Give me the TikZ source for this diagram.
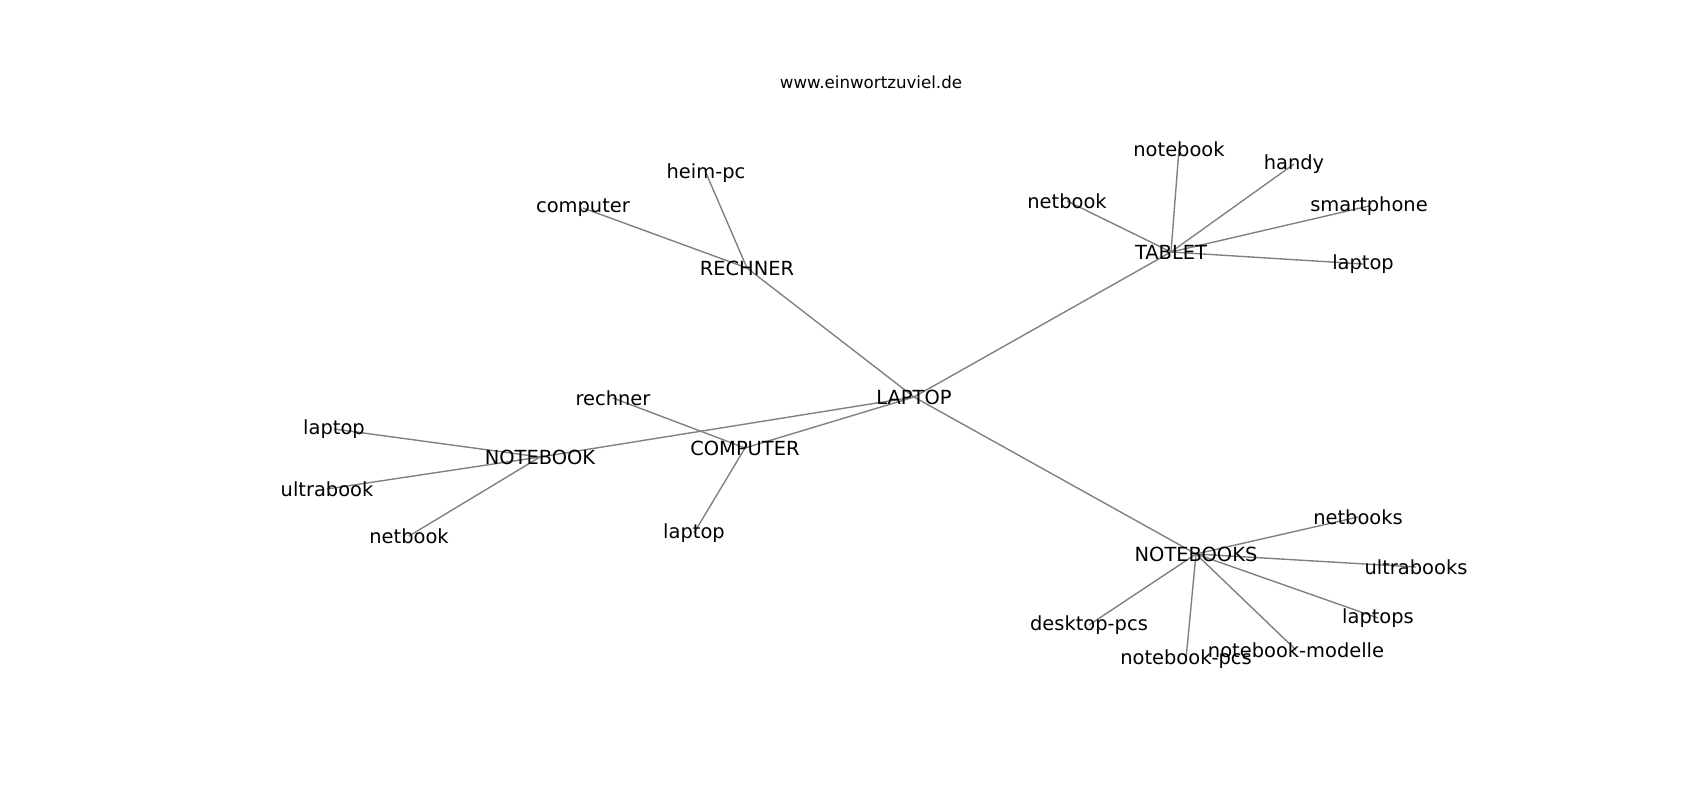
\documentclass[tikz,border=0pt]{standalone}
\usepackage{fontspec}
\setmainfont{DejaVu Sans}
\usetikzlibrary{backgrounds}

\begin{document}
\begin{tikzpicture}[x = 0.72pt, y = -0.72pt,
    every node/.style = { inner sep = 0pt, font = \fontsize{14}{16}\selectfont },
    link/.style = { draw = gray, line width = 1pt }]
    \useasboundingbox (0,0) rectangle (1700,800);
    \node [font = \fontsize{12}{14}\selectfont] (title) at (871,82) {www.einwortzuviel.de};
    % centre
    \node (laptop) at (914,397) {LAPTOP};
    \node (rechner) at (747,268) {RECHNER};
    \node (tablet) at (1171,252) {TABLET};
    \node (notebook) at (540,457) {NOTEBOOK};
    \node (computer) at (745,448) {COMPUTER};
    \node (notebooks) at (1196,554) {NOTEBOOKS};
    % RECHNER
    \node (r-computer) at (583,208) {computer};
    \node (r-heimpc) at (706,173) {heim-pc};
    % TABLET
    \node (t-netbook) at (1067,201) {netbook};
    \node (t-notebook) at (1179,149) {notebook};
    \node (t-handy) at (1294,164) {handy};
    \node (t-smartphone) at (1369,206) {smartphone};
    \node (t-laptop) at (1363,264) {laptop};
    % NOTEBOOK
    \node (n-laptop) at (334,429) {laptop};
    \node (n-ultrabook) at (327,489) {ultrabook};
    \node (n-netbook) at (409,536) {netbook};
    % COMPUTER
    \node (c-rechner) at (613,398) {rechner};
    \node (c-laptop) at (694,533) {laptop};
    % NOTEBOOKS
    \node (s-netbooks) at (1358,517) {netbooks};
    \node (s-ultrabooks) at (1416,567) {ultrabooks};
    \node (s-laptops) at (1378,618) {laptops};
    \node (s-modelle) at (1296,650) {notebook-modelle};
    \node (s-pcs) at (1186,659) {notebook-pcs};
    \node (s-desktop) at (1089,625) {desktop-pcs};

    \begin{scope}[on background layer]
      \foreach \a/\b in {laptop/rechner, laptop/tablet, laptop/notebook,
          laptop/computer, laptop/notebooks,
          rechner/r-computer, rechner/r-heimpc,
          tablet/t-netbook, tablet/t-notebook, tablet/t-handy,
          tablet/t-smartphone, tablet/t-laptop,
          notebook/n-laptop, notebook/n-ultrabook, notebook/n-netbook,
          computer/c-rechner, computer/c-laptop,
          notebooks/s-netbooks, notebooks/s-ultrabooks, notebooks/s-laptops,
          notebooks/s-modelle, notebooks/s-pcs, notebooks/s-desktop}
        \draw [link] (\a.center) -- (\b.center);
    \end{scope}
\end{tikzpicture}
\end{document}
